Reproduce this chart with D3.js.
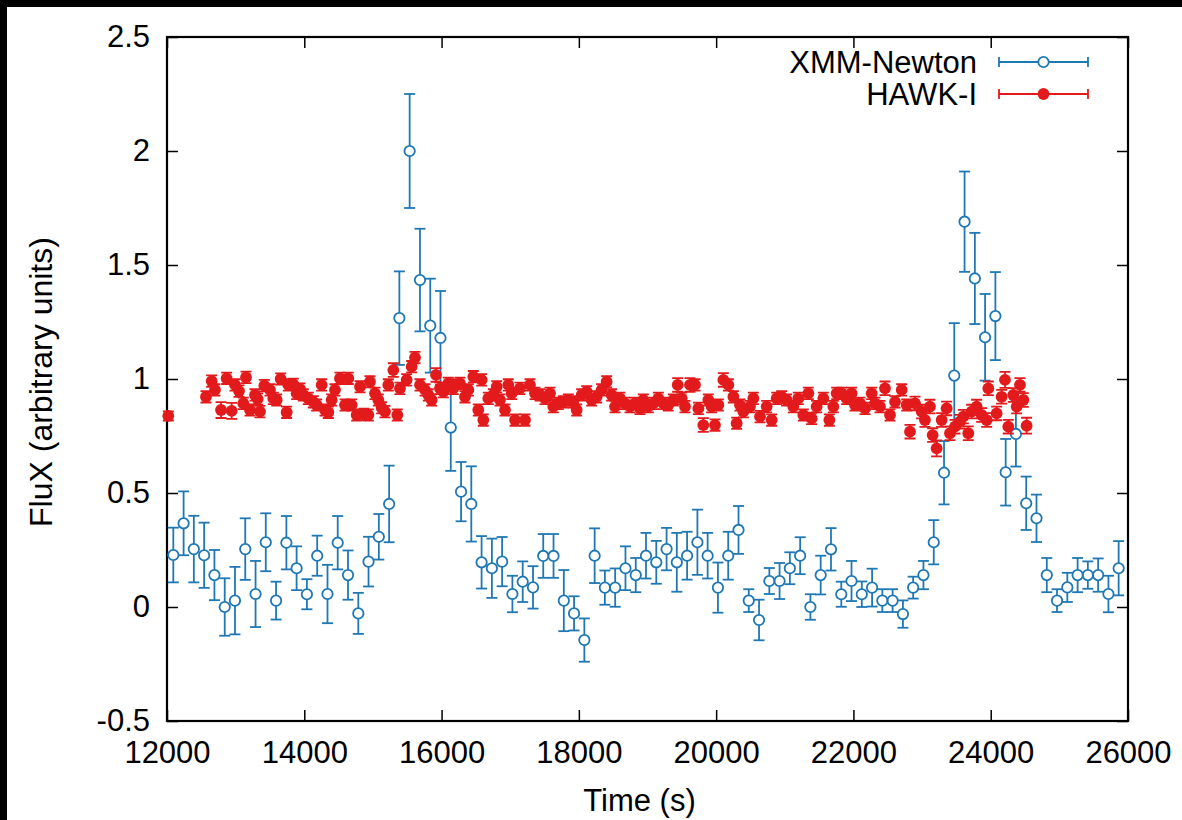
<!DOCTYPE html>
<html><head><meta charset="utf-8">
<script src="https://cdn.jsdelivr.net/npm/d3@7"></script>
<style>body{margin:0;background:#fff;overflow:hidden} svg{display:block}</style>
</head><body>
<svg id="c" width="1182" height="820"></svg>
<script>
// ---------------- data ----------------
const xmmTime = [12092,12242,12391,12541,12691,12841,12990,13140,13290,13439,
13589,13739,13888,14038,14188,14338,14487,14637,14787,14936,
15086,15236,15385,15535,15685,15835,15984,16134,16284,16433,
16583,16733,16882,17032,17182,17332,17481,17631,17781,17930,
18080,18230,18379,18529,18679,18829,18978,19128,19278,19427,
19577,19727,19876,20026,20176,20326,20475,20625,20775,20924,
21074,21224,21373,21523,21673,21823,21972,22122,22272,22421,
22571,22721,22870,23020,23170,23320,23469,23619,23769,23918,
24068,24218,24367,24517,24667,24817,24966,25116,25266,25415,
25565,25715,25864];
const xmmFlux = [0.228,0.367,0.254,0.227,0.14,0.0,0.028,0.254,0.057,0.284,
0.028,0.282,0.17,0.056,0.225,0.057,0.282,0.14,-0.028,0.199,
0.308,0.452,1.267,2.0,1.434,1.234,1.18,0.787,0.506,0.452,
0.196,0.17,0.199,0.057,0.111,0.086,0.224,0.224,0.028,-0.028,
-0.145,0.225,0.085,0.085,0.17,0.14,0.225,0.196,0.254,0.196,
0.225,0.284,0.225,0.085,0.225,0.338,0.028,-0.057,0.114,0.114,
0.17,0.225,0.0,0.14,0.253,0.056,0.114,0.056,0.085,0.028,
0.028,-0.031,0.085,0.14,0.284,0.589,1.015,1.69,1.441,1.183,
1.276,0.591,0.759,0.455,0.389,0.14,0.028,0.086,0.14,0.14,
0.14,0.057,0.17];
const xmmErr = [0.12,0.14,0.146,0.143,0.11,0.126,0.148,0.135,0.145,0.127,
0.083,0.117,0.096,0.066,0.088,0.128,0.117,0.108,0.09,0.109,
0.1,0.168,0.205,0.25,0.225,0.206,0.206,0.19,0.13,0.165,
0.115,0.13,0.108,0.08,0.089,0.093,0.096,0.096,0.134,0.075,
0.095,0.12,0.075,0.084,0.096,0.075,0.1,0.094,0.093,0.129,
0.105,0.143,0.1,0.11,0.105,0.105,0.05,0.089,0.057,0.079,
0.07,0.081,0.056,0.085,0.093,0.055,0.088,0.056,0.083,0.05,
0.05,0.06,0.048,0.062,0.097,0.139,0.23,0.22,0.2,0.19,
0.193,0.146,0.143,0.117,0.104,0.075,0.05,0.064,0.075,0.06,
0.073,0.08,0.119];

const hawkTime = [12019,12568,12651,12699,12787,12869,12942,12991,13049,13112,
13151,13209,13282,13321,13355,13418,13500,13549,13598,13656,
13743,13767,13840,13889,13938,13986,14058,14131,14180,14253,
14302,14350,14399,14447,14520,14593,14641,14690,14763,14812,
14870,14933,14957,15030,15079,15127,15176,15224,15297,15355,
15394,15491,15564,15613,15686,15759,15807,15856,15919,15977,
16026,16098,16147,
16171,16268,16341,16390,16463,16535,16584,16608,16681,16754,
16803,16851,16924,16972,17021,17070,17142,17215,17288,17361,
17434,17507,17580,17628,17701,17774,17847,17919,17968,18041,
18114,18187,18259,18332,18405,18478,18527,18599,18672,18745,
18818,18891,18939,19012,19085,19158,19231,19303,19376,19440,
19498,19546,19619,19692,19741,19813,19886,19935,19983,20032,
20105,20178,20251,20299,20347,20396,
20493,20542,20639,20736,20809,20882,20955,21027,21124,21197,
21270,21343,21391,21464,21561,21649,21707,21756,21829,21901,
21974,22023,22096,22169,22266,22314,22387,22460,22533,22606,
22703,22776,22824,22897,22994,23042,23115,23154,23212,23285,
23358,23407,23479,23552,23601,23673,23722,23795,23868,23941,
23965,24086,24159,24208,24256,24329,24378,24426,24475,24523];
const hawkFlux = [0.838,0.922,0.991,0.952,0.864,1.003,0.860,0.974,0.947,0.893,
1.007,0.864,0.930,0.912,0.857,0.971,0.952,0.915,0.908,1.000,
0.854,0.974,0.977,0.937,0.956,0.930,0.915,0.900,0.886,0.974,
0.864,0.854,0.908,0.952,1.003,0.886,1.003,0.886,0.842,0.966,
0.845,0.842,0.988,0.937,0.908,0.874,0.857,0.974,1.039,0.842,
0.959,0.996,1.054,1.094,0.974,0.952,0.930,0.908,1.018,0.959,
0.944,0.981,0.974,
0.959,0.981,0.922,0.952,1.010,0.864,0.996,0.820,0.915,0.930,
0.966,0.908,0.864,0.974,0.937,0.820,0.959,0.820,0.974,0.937,
0.930,0.915,0.937,0.879,0.893,0.900,0.908,0.900,0.864,0.930,
0.944,0.908,0.922,0.952,0.988,0.930,0.879,0.915,0.893,0.879,
0.893,0.871,0.908,0.879,0.893,0.915,0.893,0.886,0.908,0.974,
0.915,0.879,0.974,0.974,0.871,0.798,0.908,0.879,0.798,0.886,
0.996,0.974,0.922,0.806,0.886,0.857,
0.879,0.915,0.835,0.879,0.820,0.915,0.922,0.908,0.879,0.915,
0.842,0.937,0.827,0.879,0.915,0.820,0.879,0.937,0.937,0.915,
0.937,0.886,0.893,0.871,0.937,0.893,0.879,0.959,0.842,0.900,
0.952,0.886,0.769,0.893,0.857,0.820,0.879,0.754,0.696,0.820,
0.871,0.762,0.791,0.813,0.835,0.762,0.857,0.879,0.842,0.820,
0.959,0.849,0.922,0.996,0.791,0.930,0.879,0.974,0.908,0.795];
const hawkErr = [0.02,0.025,0.025,0.025,0.035,0.025,0.035,0.025,0.025,0.025,
0.025,0.025,0.025,0.025,0.025,0.025,0.025,0.025,0.025,0.025,
0.025,0.025,0.025,0.025,0.025,0.025,0.025,0.025,0.025,0.025,
0.025,0.025,0.025,0.025,0.025,0.025,0.025,0.025,0.025,0.025,
0.025,0.025,0.025,0.025,0.025,0.025,0.025,0.025,0.03,0.025,
0.025,0.025,0.025,0.025,0.025,0.025,0.025,0.025,0.03,0.025,
0.025,0.025,0.025,
0.025,0.025,0.025,0.025,0.025,0.025,0.025,0.025,0.025,0.025,
0.025,0.025,0.025,0.025,0.025,0.025,0.025,0.025,0.025,0.025,
0.025,0.025,0.025,0.025,0.025,0.025,0.025,0.025,0.025,0.025,
0.025,0.025,0.025,0.025,0.025,0.025,0.025,0.025,0.025,0.025,
0.025,0.025,0.025,0.025,0.025,0.025,0.025,0.025,0.025,0.03,
0.025,0.025,0.03,0.025,0.025,0.03,0.025,0.025,0.025,0.025,
0.03,0.025,0.025,0.025,0.025,0.025,
0.025,0.025,0.025,0.025,0.025,0.025,0.025,0.025,0.025,0.025,
0.025,0.025,0.025,0.025,0.025,0.025,0.025,0.025,0.025,0.025,
0.025,0.025,0.025,0.025,0.025,0.025,0.025,0.03,0.025,0.025,
0.025,0.025,0.03,0.03,0.03,0.03,0.03,0.03,0.035,0.03,
0.03,0.03,0.03,0.03,0.03,0.03,0.03,0.03,0.03,0.03,
0.03,0.03,0.03,0.035,0.03,0.03,0.03,0.03,0.03,0.035];

const xTicks = [12000,14000,16000,18000,20000,22000,24000,26000];
const yTicks = [-0.5,0,0.5,1,1.5,2,2.5];
const seriesNames = ["XMM-Newton","HAWK-I"];
const xLabel = "Time (s)";
const yLabel = "FluX (arbitrary units)";

// ---------------- layout / style ----------------
const W = 1182, H = 820;
const M = {left:167, right:1128, top:37, bottom:721};
const BLUE = "#1f78b4", RED = "#e31a1c";
const FONT = "'Liberation Sans', Arial, Helvetica, sans-serif";
const FS = 31, FS_LAB = 32, FS_LEG = 31;

const svg = d3.select("#c");
svg.append("rect").attr("width",W).attr("height",H).attr("fill","#fff");
// dark strips at the top and left edge of the picture
svg.append("rect").attr("x",0).attr("y",0).attr("width",W).attr("height",7).attr("fill","#000");
svg.append("rect").attr("x",0).attr("y",0).attr("width",7).attr("height",H).attr("fill","#000");

const x = d3.scaleLinear().domain([12000,26000]).range([M.left,M.right]);
const y = d3.scaleLinear().domain([-0.5,2.5]).range([M.bottom,M.top]);

const fmt = d => String(d);
function styleAxis(g){
  g.select(".domain").remove();
  g.selectAll(".tick line").attr("stroke","#000").attr("stroke-width",1.5);
  g.selectAll(".tick text").attr("font-family",FONT).attr("font-size",FS).attr("fill","#000");
}
svg.append("g").attr("transform",`translate(${M.left},0)`)
  .call(d3.axisLeft(y).tickValues(yTicks).tickFormat(fmt).tickSizeInner(-11).tickSizeOuter(0).tickPadding(17))
  .call(styleAxis);
svg.append("g").attr("transform",`translate(${M.right},0)`)
  .call(d3.axisRight(y).tickValues(yTicks).tickFormat("").tickSizeInner(-11).tickSizeOuter(0))
  .call(styleAxis);
svg.append("g").attr("transform",`translate(0,${M.bottom})`)
  .call(d3.axisBottom(x).tickValues(xTicks).tickFormat(fmt).tickSizeInner(-11).tickSizeOuter(0).tickPadding(20))
  .call(styleAxis);
svg.append("g").attr("transform",`translate(0,${M.top})`)
  .call(d3.axisTop(x).tickValues(xTicks).tickFormat("").tickSizeInner(-11).tickSizeOuter(0))
  .call(styleAxis);

// frame
svg.append("rect").attr("x",M.left).attr("y",M.top)
  .attr("width",M.right-M.left).attr("height",M.bottom-M.top)
  .attr("fill","none").attr("stroke","#000").attr("stroke-width",2.2);

// axis titles
svg.append("text").attr("x",(M.left+M.right)/2 - 8).attr("y",811)
  .attr("text-anchor","middle").attr("font-family",FONT).attr("font-size",FS).text(xLabel);
svg.append("text").attr("transform",`translate(52,${(M.top+M.bottom)/2 + 3}) rotate(-90)`)
  .attr("text-anchor","middle").attr("font-family",FONT).attr("font-size",FS_LAB).text(yLabel);

// ---------------- XMM-Newton ----------------
const R_OPEN = 5.2, R_FILL = 5.9, CAP = 5.5;
const xmm = xmmTime.map((t,i)=>({t, v:xmmFlux[i], e:xmmErr[i]}));
const gx = svg.append("g").attr("stroke",BLUE).attr("stroke-width",1.8).attr("fill","none");
xmm.forEach(d=>{
  const cx = x(d.t), cy = y(d.v), yt = y(d.v+d.e), yb = y(d.v-d.e);
  if (cy - R_OPEN > yt) gx.append("line").attr("x1",cx).attr("x2",cx).attr("y1",yt).attr("y2",cy-R_OPEN);
  if (yb > cy + R_OPEN) gx.append("line").attr("x1",cx).attr("x2",cx).attr("y1",cy+R_OPEN).attr("y2",yb);
  gx.append("line").attr("x1",cx-CAP).attr("x2",cx+CAP).attr("y1",yt).attr("y2",yt);
  gx.append("line").attr("x1",cx-CAP).attr("x2",cx+CAP).attr("y1",yb).attr("y2",yb);
  gx.append("circle").attr("cx",cx).attr("cy",cy).attr("r",R_OPEN);
});

// ---------------- HAWK-I ----------------
const hawk = hawkTime.map((t,i)=>({t, v:hawkFlux[i], e:hawkErr[i]}));
const gh = svg.append("g");
hawk.forEach(d=>{
  const cx = x(d.t), yt = y(d.v+d.e), yb = y(d.v-d.e);
  const p = d3.path();
  p.moveTo(cx,yt); p.lineTo(cx,yb);
  p.moveTo(cx-CAP,yt); p.lineTo(cx+CAP,yt);
  p.moveTo(cx-CAP,yb); p.lineTo(cx+CAP,yb);
  gh.append("path").attr("d",p.toString()).attr("stroke",RED).attr("stroke-width",1.8).attr("fill","none");
});
gh.selectAll("circle").data(hawk).join("circle")
  .attr("cx",d=>x(d.t)).attr("cy",d=>y(d.v)).attr("r",R_FILL).attr("fill",RED);

// ---------------- legend ----------------
const legend = [{name:seriesNames[0], color:BLUE, open:true, cy:62},
                {name:seriesNames[1], color:RED, open:false, cy:94}];
const lg = svg.append("g");
legend.forEach(L=>{
  lg.append("text").attr("x",977).attr("y",L.cy+11).attr("text-anchor","end")
    .attr("font-family",FONT).attr("font-size",FS_LEG).text(L.name);
  const x1 = 999, x2 = 1088, xm = (x1+x2)/2;
  const p = d3.path();
  if (L.open){ p.moveTo(x1,L.cy); p.lineTo(xm-R_OPEN,L.cy); p.moveTo(xm+R_OPEN,L.cy); p.lineTo(x2,L.cy); }
  else { p.moveTo(x1,L.cy); p.lineTo(x2,L.cy); }
  p.moveTo(x1,L.cy-5); p.lineTo(x1,L.cy+5);
  p.moveTo(x2,L.cy-5); p.lineTo(x2,L.cy+5);
  lg.append("path").attr("d",p.toString()).attr("stroke",L.color).attr("stroke-width",1.8).attr("fill","none");
  lg.append("circle").attr("cx",xm).attr("cy",L.cy).attr("r",L.open?R_OPEN:R_FILL)
    .attr("fill",L.open?"none":L.color).attr("stroke",L.open?L.color:"none").attr("stroke-width",1.8);
});
</script>
</body></html>
